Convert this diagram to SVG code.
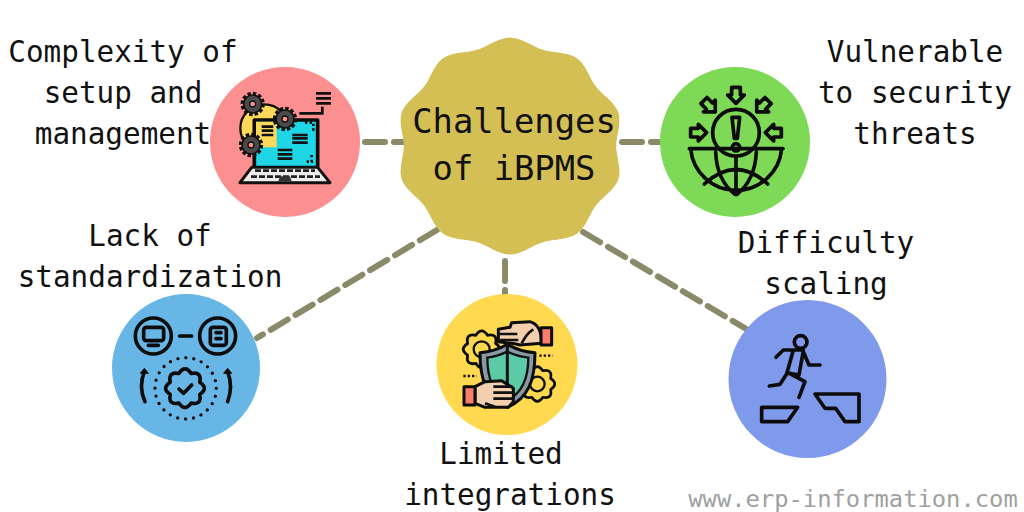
<svg xmlns="http://www.w3.org/2000/svg" xmlns:xlink="http://www.w3.org/1999/xlink" width="1024" height="512" viewBox="0 0 1024 512">
<style>
.t{font-family:"DejaVu Sans Mono","Liberation Mono",monospace;font-size:29.300px;fill:#111;text-anchor:middle}
.h{font-size:33.800px}
.c{fill:none;stroke:#8a8a68;stroke-width:6;stroke-dasharray:20 9;stroke-linecap:round}
.k{fill:none;stroke:#0c0c0c;stroke-width:11;stroke-linecap:round;stroke-linejoin:round}
.b{stroke:#0c0c0c;stroke-width:9;stroke-linecap:round;stroke-linejoin:round}
.m{fill:none;stroke:#111;stroke-width:8;stroke-linecap:butt}
</style>
<defs>
<path id="w" d="M0 0L-31.100 -95.700C-20.500 -99 -11.500 -108 0 -108C11.500 -108 20.500 -99 31.100 -95.700Z" fill="#d4bf55" stroke="#d4bf55" stroke-width="1"/>
<polygon id="ar" points="230,82 256,82 256,105 268,105 243,130 218,105 230,105" class="k"/>
<g id="gr">
<circle r="31" fill="none" stroke="#111" stroke-width="11" stroke-dasharray="10 6.200"/>
<circle r="27" fill="#4a4a4a" stroke="#111" stroke-width="5"/>
<circle r="9" fill="#fc9090" stroke="#111" stroke-width="4"/>
</g>
<path id="gg" d="M44.300 18.400Q50.900 50.900 18.400 44.300Q0 72 -18.400 44.300Q-50.900 50.900 -44.300 18.400Q-72 0 -44.300 -18.400Q-50.900 -50.900 -18.400 -44.300Q0 -72 18.400 -44.300Q50.900 -50.900 44.300 -18.400Q72 0 44.300 18.400Z"/>
</defs>
<rect width="1024" height="512" fill="#fff"/>
<g id="connectors">
<path class="c" d="M365 142H405"/>
<path class="c" d="M622 142H660"/>
<path class="c" d="M437 230L257 338"/>
<path class="c" d="M505 261V294"/>
<path class="c" d="M583 232L748 330"/>
</g>
<g id="center">
<g transform="translate(510 146) scale(1.050 1)">
<use xlink:href="#w" href="#w"/>
<use xlink:href="#w" href="#w" transform="rotate(36)"/>
<use xlink:href="#w" href="#w" transform="rotate(72)"/>
<use xlink:href="#w" href="#w" transform="rotate(108)"/>
<use xlink:href="#w" href="#w" transform="rotate(144)"/>
<use xlink:href="#w" href="#w" transform="rotate(180)"/>
<use xlink:href="#w" href="#w" transform="rotate(216)"/>
<use xlink:href="#w" href="#w" transform="rotate(252)"/>
<use xlink:href="#w" href="#w" transform="rotate(288)"/>
<use xlink:href="#w" href="#w" transform="rotate(324)"/>
</g>
<text class="t h" x="514" y="133">Challenges</text>
<text class="t h" x="514" y="180">of iBPMS</text>
</g>
<g id="setup">
<circle cx="285" cy="142" r="75" fill="#fc9090"/>
<g transform="translate(205 60) scale(.3333)">
<circle cx="178" cy="205" r="72" fill="#fcd95a" stroke="#111" stroke-width="7"/>
<path d="M148 320V180H338V320Z" fill="#1fd6e6"/>
<path d="M148 320V180H338V320" class="k"/>
<path d="M153 185H215V262L170 262L153 280Z" fill="#fcd95a"/>
<polygon points="140,322 338,322 375,368 105,368" fill="#eeeeee" stroke="#111" stroke-width="9" stroke-linejoin="round"/>
<path d="M150 332H330M138 350H345" fill="none" stroke="#222" stroke-width="8" stroke-dasharray="18 6"/>
<path d="M220 364L225 349H255L260 364Z" fill="#333"/>
<path class="m" d="M333 100H378M333 115H378M333 130H378M170 200H205M170 212H205M170 225H205M262 225H308M262 235H308M262 248H308M218 270H262M218 283H262M218 296H262"/>
<path class="m" d="M283 160H352V140"/>
<path d="M300 188H325V215M320 285V305H300" fill="none" stroke="#111" stroke-width="8" stroke-dasharray="7 7"/>
<use xlink:href="#gr" href="#gr" transform="translate(143 132)"/>
<use xlink:href="#gr" href="#gr" transform="translate(240 177)"/>
<use xlink:href="#gr" href="#gr" transform="translate(138 255)"/>
</g>
</g>
<g id="security">
<circle cx="735" cy="142" r="75" fill="#7ed957"/>
<g transform="translate(655 60) scale(.3333)">
<circle class="k" cx="243" cy="218" r="70"/>
<polygon class="k" points="231,172 254,172 247,235 238,235"/>
<circle class="k" cx="243" cy="262" r="11"/>
<path class="k" d="M103 266H384M107 266A137 137 0 0 0 380 266M243 292V403M182 276Q185 360 240 403M304 276Q300 360 246 403M148 372Q243 285 338 372"/>
<use xlink:href="#ar" href="#ar"/>
<use xlink:href="#ar" href="#ar" transform="rotate(45 243 218)"/>
<use xlink:href="#ar" href="#ar" transform="rotate(-45 243 218)"/>
<use xlink:href="#ar" href="#ar" transform="rotate(90 243 218)"/>
<use xlink:href="#ar" href="#ar" transform="rotate(-90 243 218)"/>
</g>
</g>
<g id="standardization">
<circle cx="186" cy="368" r="74" fill="#67b6e6"/>
<g transform="translate(105 290) scale(.3333)">
<circle class="k" cx="145" cy="138" r="54"/>
<circle class="k" cx="338" cy="138" r="54"/>
<path class="k" d="M224 138H260M130 166H160"/>
<rect class="k" x="116" y="112" width="60" height="40" rx="8"/>
<rect class="k" x="316" y="112" width="48" height="54" rx="8"/>
<path class="k" d="M333 128H348M333 146H348"/>
<circle cx="242" cy="295" r="92" fill="none" stroke="#0c0c0c" stroke-width="10" stroke-dasharray="0 24.080" stroke-linecap="round"/>
<use xlink:href="#gg" href="#gg" class="k" transform="translate(240 295)"/>
<path class="k" d="M222 297L236 310L260 285"/>
<path class="k" d="M120 335Q100 290 118 245M368 335Q385 290 368 245"/>
<path d="M106 250L118 235L130 250ZM356 250L368 235L380 250Z" fill="#0c0c0c" stroke="#0c0c0c" stroke-width="3" stroke-linejoin="round"/>
</g>
</g>
<g id="integrations">
<circle cx="507" cy="364.500" r="70.500" fill="#ffd94f"/>
<g transform="translate(430 290) scale(.3333)">
<g fill="#fdd84f">
<use xlink:href="#gg" href="#gg" class="b" transform="translate(155 178) scale(.95)"/>
<use xlink:href="#gg" href="#gg" class="b" transform="translate(322 282) scale(.9)"/>
</g>
<circle cx="155" cy="178" r="24" fill="#fdd84f" stroke="#111" stroke-width="7"/>
<circle cx="322" cy="282" r="22" fill="#fdd84f" stroke="#111" stroke-width="7"/>
<path class="b" fill="#8a9aa5" d="M232 163Q195 185 150 188C150 270 170 325 232 352C295 325 315 270 315 188Q270 185 232 163Z"/>
<path fill="#5cc9a7" stroke="#111" stroke-width="7" d="M232 185Q200 200 172 203C172 265 190 310 232 330C275 310 295 265 295 203Q265 200 232 185Z"/>
<path fill="none" stroke="#111" stroke-width="9" d="M232 165V345"/>
<path class="b" fill="#f2cfae" d="M245 98L300 95Q335 105 335 160L270 165Q250 160 205 155V118L240 112Z"/>
<path class="m" d="M205 132H262M210 150H265M275 160Q290 130 310 118"/>
<rect class="b" x="333" y="113" width="32" height="52" fill="#f77f6b"/>
<path class="b" fill="#f2cfae" d="M135 290L165 275L215 272L250 295V335L235 352H165L135 340Z"/>
<path class="m" d="M190 290H248M190 308H252M190 326H250M165 340L195 350"/>
<rect class="b" x="102" y="290" width="33" height="55" fill="#f77f6b"/>
<path d="M328 197H368M100 258H140" fill="none" stroke="#111" stroke-width="7" stroke-dasharray="7 6"/>
</g>
</g>
<g id="scaling">
<circle cx="807.500" cy="379" r="79" fill="#7f9aeb"/>
<g transform="translate(725 295) scale(.3333)">
<circle cx="227" cy="141" r="19" fill="none" stroke="#0c0c0c" stroke-width="11"/>
<polygon class="k" points="110,337 218,337 188,380 110,380"/>
<polygon class="k" points="270,297 402,297 402,380 360,380 332,340 300,340"/>
<path class="k" d="M153 187L175 165H205L185 237L165 268L133 273M235 168L222 240L190 234L240 260L222 307M235 170L252 210H285M205 165H235"/>
</g>
</g>
<g id="labels">
<text class="t" x="123" y="62">Complexity of</text>
<text class="t" x="123" y="103">setup and</text>
<text class="t" x="123" y="144">management</text>
<text class="t" x="915" y="62">Vulnerable</text>
<text class="t" x="915" y="103">to security</text>
<text class="t" x="915" y="144">threats</text>
<text class="t" x="150" y="246">Lack of</text>
<text class="t" x="150" y="287">standardization</text>
<text class="t" x="826" y="253">Difficulty</text>
<text class="t" x="826" y="294">scaling</text>
<text class="t" x="501" y="464">Limited</text>
<text class="t" x="510" y="505">integrations</text>
<text class="t" x="853" y="507" style="font-size:23.800px;fill:#a0a0a0">www.erp-information.com</text>
</g>
</svg>
